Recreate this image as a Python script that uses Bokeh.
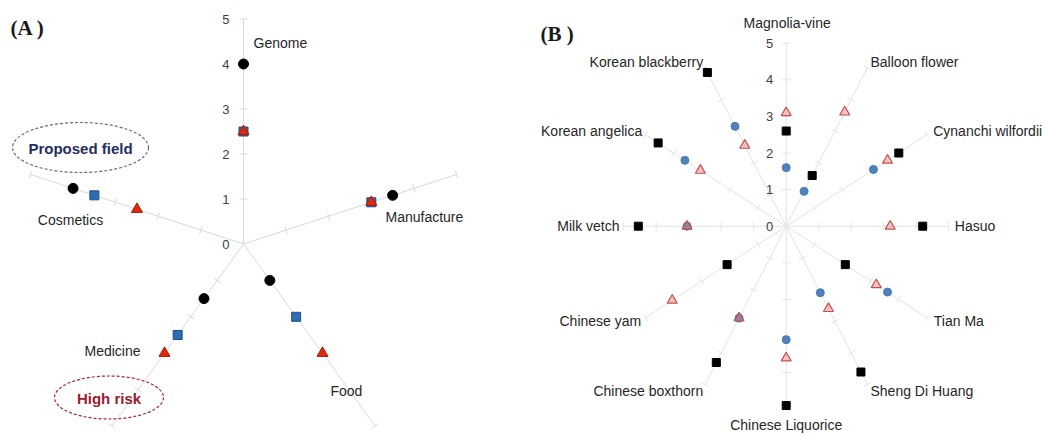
import math
from bokeh.plotting import figure
from bokeh.layouts import row
from bokeh.models import Range1d
from bokeh.embed import file_html
from bokeh.resources import INLINE
from bokeh.core.properties import value

NAN = float("nan")

# ---------------- data: chart (A) ----------------
a_categories = ["Genome", "Manufacture", "Food", "Medicine", "Cosmetics"]
a_circle = [4.0, 3.5, 1.0, 1.5, 4.0]
a_square = [2.5, 3.0, 2.0, 2.5, 3.5]
a_triangle = [2.5, 3.0, 3.0, 3.0, 2.5]
a_ticks = [0, 1, 2, 3, 4, 5]

# ---------------- data: chart (B) ----------------
b_categories = ["Magnolia-vine", "Balloon flower", "Cynanchi wilfordii", "Hasuo",
                "Tian Ma", "Sheng Di Huang", "Chinese Liquorice", "Chinese boxthorn",
                "Chinese yam", "Milk vetch", "Korean angelica", "Korean blackberry"]
b_square = [2.6, 1.6, 4.0, 4.2, 2.1, 4.6, 4.9, 4.3, 2.1, 4.55, 4.55, 4.85]
b_circle = [1.6, 1.1, 3.1, NAN, 3.6, 2.1, 3.1, 2.9, NAN, 3.05, 3.6, 3.15]
b_triangle = [3.1, 3.6, 3.6, 3.2, 3.2, 2.6, 3.6, 2.9, 4.05, 3.05, 3.05, 2.55]
b_ticks = [0, 1, 2, 3, 4, 5]

FONT = value("Liberation Sans")


def angles(n):
    return [math.radians(90 - i * 360.0 / n) for i in range(n)]


def polar(vals, n):
    ang = angles(n)
    xs = [v * math.cos(a) for v, a in zip(vals, ang)]
    ys = [v * math.sin(a) for v, a in zip(vals, ang)]
    return xs, ys


def make_fig(width, height, cx, cy, sx, sy):
    p = figure(width=width, height=height,
               x_range=Range1d(-cx / sx, (width - cx) / sx),
               y_range=Range1d(-(height - cy) / sy, cy / sy),
               output_backend="svg", toolbar_location=None,
               x_axis_location=None, y_axis_location=None, min_border=0)
    p.grid.visible = False
    p.outline_line_color = None
    p.background_fill_color = "white"
    p.border_fill_color = "white"
    return p


def draw_axes(p, n, ticks, sx, sy, color, tick_half, label_dx, tick_color):
    rmax = max(ticks)
    ang = angles(n)
    p.segment(x0=[0] * n, y0=[0] * n,
              x1=[rmax * math.cos(a) for a in ang],
              y1=[rmax * math.sin(a) for a in ang],
              line_color=color, line_width=1)
    tx0, ty0, tx1, ty1 = [], [], [], []
    for a in ang:
        ux, uy = math.cos(a) * sx, math.sin(a) * sy
        L = math.hypot(ux, uy)
        ux, uy = ux / L, uy / L
        ox, oy = -uy * tick_half / sx, ux * tick_half / sy
        for t in ticks[1:]:
            cxp, cyp = t * math.cos(a), t * math.sin(a)
            tx0.append(cxp - ox); ty0.append(cyp - oy)
            tx1.append(cxp + ox); ty1.append(cyp + oy)
    p.segment(x0=tx0, y0=ty0, x1=tx1, y1=ty1, line_color=color, line_width=1)
    p.text(x=[label_dx / sx] * len(ticks), y=list(ticks), text=[str(t) for t in ticks],
           text_font=FONT, text_font_size="13px", text_color=tick_color,
           text_align="right", text_baseline="middle")


def draw_labels(p, cats, offsets, sx, sy, size="14px"):
    for c, (dx, dy, al) in zip(cats, offsets):
        p.text(x=[dx / sx], y=[dy / sy], text=[c], text_font=FONT,
               text_font_size=size, text_color="#262626",
               text_align=al, text_baseline="middle")


def px(p_x, cx, sx):
    return (p_x - cx) / sx


def py(p_y, cy, sy):
    return (cy - p_y) / sy


# ================= chart (A) =================
WA, H = 520, 434
A_CX, A_CY, A_SX, A_SY = 243, 243.5, 44.8, 45.0
pa = make_fig(WA, H, A_CX, A_CY, A_SX, A_SY)
na = len(a_categories)
draw_axes(pa, na, a_ticks, A_SX, A_SY, "#d9d9d9", 4, -14, "#404040")

xs, ys = polar(a_circle, na)
pa.scatter(xs, ys, marker="circle", size=10, fill_color="black", line_color="black")
xs, ys = polar(a_square, na)
pa.scatter(xs, ys, marker="square", size=9, fill_color="#2e6db4", line_color="#1f4e89")
xs, ys = polar(a_triangle, na)
pa.scatter(xs, ys, marker="triangle", size=11, fill_color="#e2280c", line_color="#a01a08")

a_label_pos = [(10, 201.5, "left"), (142, 26.8, "left"), (87, -147.2, "left"),
               (-103, -107.2, "right"), (-140.3, 24.5, "right")]
draw_labels(pa, a_categories, a_label_pos, A_SX, A_SY)

# annotation ellipses
pa.ellipse(x=[px(80, A_CX, A_SX)], y=[py(147, A_CY, A_SY)],
           width=136 / A_SX, height=50 / A_SY, fill_color=None,
           line_color="#6d6d6d", line_dash="3 2", line_width=1.2)
pa.text(x=[px(80, A_CX, A_SX)], y=[py(147.5, A_CY, A_SY)], text=["Proposed field"],
        text_font=FONT, text_font_size="15px", text_font_style="bold",
        text_color="#1f2f5f", text_align="center", text_baseline="middle")
pa.ellipse(x=[px(108.5, A_CX, A_SX)], y=[py(397, A_CY, A_SY)],
           width=109 / A_SX, height=43 / A_SY, fill_color=None,
           line_color="#a8283a", line_dash="3 2", line_width=1.2)
pa.text(x=[px(108.5, A_CX, A_SX)], y=[py(398, A_CY, A_SY)], text=["High risk"],
        text_font=FONT, text_font_size="15px", text_font_style="bold",
        text_color="#9a1c2e", text_align="center", text_baseline="middle")
pa.text(x=[px(10, A_CX, A_SX)], y=[py(27, A_CY, A_SY)], text=["(A )"],
        text_font=value("Liberation Serif"), text_font_size="21px",
        text_font_style="bold", text_color="#1a1a1a",
        text_align="left", text_baseline="middle")

# ================= chart (B) =================
WB = 527
B_CX, B_CY, B_SX, B_SY = 265.7, 225.7, 32.5, 36.6
pb = make_fig(WB, H, B_CX, B_CY, B_SX, B_SY)
nb = len(b_categories)
draw_axes(pb, nb, b_ticks, B_SX, B_SY, "#e3e3e3", 4, -13, "#404040")

xs, ys = polar(b_square, nb)
pb.scatter(xs, ys, marker="square", size=8, fill_color="black", line_color="black")
xs, ys = polar(b_circle, nb)
pb.scatter(xs, ys, marker="circle", size=8, fill_color="#4f81bd", line_color="#4a7ab5")
xs, ys = polar(b_triangle, nb)
pb.scatter(xs, ys, marker="triangle", size=10, fill_color="#f08080", fill_alpha=0.45,
           line_color="#c0504d", line_width=1.2)

b_label_pos = [(1, 203, "center"), (84.3, 164.7, "left"), (147, 95.7, "left"),
               (168.6, 0, "left"), (147.6, -95, "left"), (84.3, -164.3, "left"),
               (0, -199, "center"), (-83, -164.3, "right"), (-145, -95, "right"),
               (-166.7, 0, "right"), (-144, 95.7, "right"), (-83, 164.7, "right")]
draw_labels(pb, b_categories, b_label_pos, B_SX, B_SY)

pb.text(x=[px(20, B_CX, B_SX)], y=[py(33, B_CY, B_SY)], text=["(B )"],
        text_font=value("Liberation Serif"), text_font_size="21px",
        text_font_style="bold", text_color="#1a1a1a",
        text_align="left", text_baseline="middle")

layout = row(pa, pb)
open("out.html", "w").write(file_html(layout, INLINE))
